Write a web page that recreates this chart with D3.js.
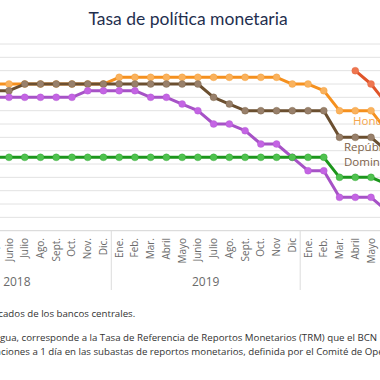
<!DOCTYPE html>
<html><head><meta charset="utf-8">
<script src="https://cdn.jsdelivr.net/npm/d3@7"></script>
<style>html,body{margin:0;padding:0;background:#fff;overflow:hidden}</style>
</head><body>
<svg id="c" width="380" height="380"></svg>
<script>
// ---- data (Ene 2018 .. Jun 2020) ----
const months = ["Ene.","Feb.","Mar.","Abril","Mayo","Junio","Julio","Ago.","Sept.","Oct.","Nov.","Dic.",
                "Ene.","Feb.","Mar.","Abril","Mayo","Junio","Julio","Ago.","Sept.","Oct.","Nov","Dic",
                "Ene.","Feb.","Mar.","Abril","Mayo","Junio"];
const years = ["2018","2019","2020"];
const honduras = [5.5,5.5,5.5,5.5,5.5,5.5,5.5,5.5,5.5,5.5,5.5,5.5,
                  5.75,5.75,5.75,5.75,5.75,5.75,5.75,5.75,5.75,5.75,5.75,5.5,
                  5.5,5.25,4.5,4.5,4.5,3.75];
const repDominicana = [5.25,5.25,5.25,5.25,5.25,5.25,5.5,5.5,5.5,5.5,5.5,5.5,
                  5.5,5.5,5.5,5.5,5.5,5.5,5.0,4.75,4.5,4.5,4.5,4.5,
                  4.5,4.5,3.5,3.5,3.5,3.0];
const costaRica = [5.0,5.0,5.0,5.0,5.0,5.0,5.0,5.0,5.0,5.0,5.25,5.25,
                  5.25,5.25,5.0,5.0,4.75,4.5,4.0,4.0,3.75,3.25,3.25,2.75,
                  2.25,2.25,1.25,1.25,1.25,0.75];
const guatemala = [2.75,2.75,2.75,2.75,2.75,2.75,2.75,2.75,2.75,2.75,2.75,2.75,
                  2.75,2.75,2.75,2.75,2.75,2.75,2.75,2.75,2.75,2.75,2.75,2.75,
                  2.75,2.75,2.0,2.0,2.0,1.75];
const nicaragua = [null,null,null,null,null,null,null,null,null,null,null,null,
                  null,null,null,null,null,null,null,null,null,null,null,null,
                  null,null,null,6.0,5.5,4.75];
const yTicks = [0.5,1,1.5,2,2.5,3,3.5,4,4.5,5,5.5,6,6.5,7];

const series = [
  {name:"Honduras", values:honduras, line:"#f5901e", dot:"#f9b25e"},
  {name:"República Dominicana", values:repDominicana, line:"#6b4f30", dot:"#98806b"},
  {name:"Costa Rica", values:costaRica, line:"#a652c6", dot:"#c464e4"},
  {name:"Guatemala", values:guatemala, line:"#1c961c", dot:"#4fc24f"},
  {name:"Nicaragua", values:nicaragua, line:"#e0552a", dot:"#ee7650"}
];

const svg = d3.select("#c");
const x = d3.scaleLinear().domain([5, 28]).range([9, 371]);
const y = d3.scaleLinear().domain([0, 7]).range([230.7, 44]);

// gridlines
svg.append("g").selectAll("line").data(yTicks).join("line")
  .attr("x1",0).attr("x2",380).attr("y1",d=>y(d)).attr("y2",d=>y(d))
  .attr("stroke","#e2e2e2").attr("stroke-width",1);
// baseline
svg.append("line").attr("x1",0).attr("x2",380).attr("y1",y(0)).attr("y2",y(0))
  .attr("stroke","#d4d4d4");

// title
svg.append("text").attr("x",188).attr("y",25).attr("text-anchor","middle")
  .attr("font-family","Lato, sans-serif").attr("font-size",17.5).attr("fill","#1f2f4f")
  .text("Tasa de política monetaria");

// month labels
const axisG = svg.append("g").attr("font-family","'Open Sans', sans-serif").attr("font-size",10).attr("fill","#6a6a6a");
months.forEach((m,i)=>{
  axisG.append("text").attr("transform",`translate(${x(i)},238) rotate(-90)`)
    .attr("text-anchor","end").attr("dy","0.35em").text(m);
});
// year separators
[11.5, 23.5].forEach(v=>{
  svg.append("line").attr("x1",x(v)).attr("x2",x(v)).attr("y1",y(0)).attr("y2",290)
    .attr("stroke","#dcdcdc");
});
// year labels (centred on each year's months)
const yearCenters = [5.5, 17.5, 29.9];
years.forEach((yr,i)=>{
  axisG.append("text").attr("x",x(yearCenters[i])).attr("y",286).attr("text-anchor","middle")
    .attr("font-size",12).text(yr);
});

// lines and points
const lineGen = d3.line().defined(d=>d.v!=null).x(d=>x(d.i)).y(d=>y(d.v));
series.forEach(s=>{
  const pts = s.values.map((v,i)=>({i,v}));
  svg.append("path").datum(pts).attr("d",lineGen).attr("fill","none")
    .attr("stroke",s.line).attr("stroke-width",3).attr("stroke-linejoin","round");
  svg.append("g").selectAll("circle").data(pts.filter(d=>d.v!=null)).join("circle")
    .attr("cx",d=>x(d.i)).attr("cy",d=>y(d.v)).attr("r",3.5)
    .attr("fill",s.dot).attr("stroke",s.line).attr("stroke-opacity",0.35).attr("stroke-width",0.8);
});

// series labels
const lab = svg.append("g").attr("font-family","'Open Sans', sans-serif").attr("font-size",11.5);
lab.append("text").attr("x",353).attr("y",125).attr("fill","#f5a64c").text("Honduras");
lab.append("text").attr("x",344).attr("y",150.5).attr("fill","#7d6249").text("República");
lab.append("text").attr("x",344).attr("y",166).attr("fill","#7d6249").text("Dominicana");

// footer notes
const foot = svg.append("g").attr("font-family","'Open Sans', sans-serif").attr("font-size",9.7).attr("fill","#333");
function clipped(full, visible, tx, ty){
  const t = foot.append("text").attr("x",0).attr("y",ty).text(full);
  const idx = full.indexOf(visible);
  const pre = idx>0 ? t.node().getSubStringLength(0, idx) : 0;
  t.attr("x", tx - pre);
}
clipped("Fuente: elaboración propia con datos publicados de los bancos centrales.", "ados de los", 3, 316.5);
clipped("Nota: En el caso de Nicaragua, corresponde a la Tasa de Referencia de Reportos Monetarios (TRM) que el BCN utiliza como referencia para sus", "gua, corresponde", 0, 341);
clipped("operaciones a 1 día en las subastas de reportos monetarios, definida por el Comité de Operaciones Monetarias.", "ciones a 1", 1, 354.5);
</script>
</body></html>
